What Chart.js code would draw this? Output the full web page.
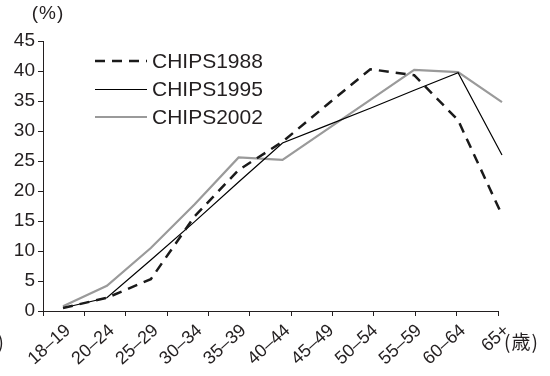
<!DOCTYPE html>
<html>
<head>
<meta charset="utf-8">
<script src="https://cdn.jsdelivr.net/npm/chart.js@4/dist/chart.umd.min.js"></script>
<style>
  html, body { margin: 0; padding: 0; background: #fff; }
  canvas { display: block; }
</style>
</head>
<body>
<canvas id="chart" width="550" height="376"></canvas>
<script>
// age groups on the x axis
const ageGroups = ['18–19', '20–24', '25–29', '30–34', '35–39', '40–44', '45–49', '50–54', '55–59', '60–64', '65+'];
// share (%) per survey
const chips1988 = [0.5, 2.2, 5.3, 15.8, 23.5, 28.2, 34.3, 40.3, 39.3, 31.8, 16.0];
const chips1995 = [0.5, 2.2, 8.5, 14.9, 21.5, 28.0, 30.9, 33.8, 36.8, 39.7, 26.0];
const chips2002 = [0.8, 4.2, 10.5, 17.8, 25.6, 25.2, 30.2, 35.2, 40.2, 39.8, 34.8];
const seriesNames = ['CHIPS1988', 'CHIPS1995', 'CHIPS2002'];

const toPoints = arr => arr.map((v, i) => ({ x: i, y: v }));
const fontFamily = '"Liberation Sans", Arial, sans-serif';
const cjkFont = '"Noto Sans CJK JP", "Noto Sans CJK SC", sans-serif';
const ink = '#231f20';

// legend drawn inside the plot, plus the unit captions
const extras = {
  id: 'extras',
  afterDraw(chart) {
    const ctx = chart.ctx;
    ctx.save();
    const rows = [61, 89, 117];
    chart.data.datasets.forEach((ds, i) => {
      const y = rows[i] + (ds.borderWidth < 2 ? 0.5 : 0);
      ctx.beginPath();
      ctx.strokeStyle = ds.borderColor;
      ctx.lineWidth = ds.borderWidth < 2 ? 1 : ds.borderWidth;
      ctx.setLineDash(ds.borderDash || []);
      ctx.moveTo(95, y);
      ctx.lineTo(147, y);
      ctx.stroke();
      ctx.setLineDash([]);
      ctx.fillStyle = ink;
      ctx.font = '21px ' + fontFamily;
      ctx.textBaseline = 'middle';
      ctx.textAlign = 'left';
      ctx.fillText(ds.label, 152, rows[i] + 1);
    });
    ctx.fillStyle = ink;
    ctx.textBaseline = 'middle';
    ctx.font = '19px ' + fontFamily;
    ctx.letterSpacing = '1px';
    ctx.textAlign = 'center';
    ctx.fillText('(%)', 48, 14);
    ctx.textAlign = 'left';
    ctx.font = '19px ' + cjkFont;
    ctx.letterSpacing = '1px';
    ctx.fillText('(歳)', 504, 342);
    ctx.textAlign = 'right';
    ctx.fillText(')', 5, 342);
    ctx.restore();
  }
};

new Chart(document.getElementById('chart'), {
  type: 'line',
  data: {
    labels: ageGroups,
    datasets: [
      {
        label: seriesNames[0],
        data: toPoints(chips1988),
        xAxisID: 'xData',
        borderColor: '#1a1a1a',
        borderWidth: 2.5,
        borderDash: [10, 7],
        pointRadius: 0,
        fill: false,
        clip: false
      },
      {
        label: seriesNames[1],
        data: toPoints(chips1995),
        xAxisID: 'xData',
        borderColor: '#000',
        borderWidth: 1.2,
        pointRadius: 0,
        fill: false,
        clip: false
      },
      {
        label: seriesNames[2],
        data: toPoints(chips2002),
        xAxisID: 'xData',
        borderColor: '#9a9a9a',
        borderWidth: 2.2,
        pointRadius: 0,
        fill: false,
        clip: false
      }
    ]
  },
  options: {
    responsive: false,
    animation: false,
    events: [],
    layout: { padding: { top: 41, right: 52, left: 0, bottom: 0 } },
    plugins: {
      legend: { display: false },
      tooltip: { enabled: false }
    },
    scales: {
      // axis line and category tick marks
      x: {
        type: 'category',
        weight: 0,
        offset: true,
        border: { display: true, color: ink, width: 1 },
        grid: { offset: true, drawOnChartArea: false, tickLength: 5, color: ink },
        ticks: { display: false },
        afterFit: s => { s.height = 0; }
      },
      // data positions and age labels
      xData: {
        type: 'linear',
        weight: 1,
        position: 'bottom',
        min: -0.4556,
        max: 9.909,
        border: { display: false },
        grid: { display: false, drawTicks: false },
        afterBuildTicks: s => { s.ticks = ageGroups.map((_, i) => ({ value: i })); },
        ticks: {
          color: ink,
          font: { size: 18, family: fontFamily },
          minRotation: 42,
          maxRotation: 42,
          padding: 9,
          labelOffset: 5,
          autoSkip: false,
          callback: v => ageGroups[v]
        },
        afterFit: s => { s.height = 65; }
      },
      y: {
        min: 0,
        max: 45,
        border: { display: true, color: ink, width: 1 },
        grid: { drawOnChartArea: false, tickLength: 5, color: ink },
        ticks: {
          stepSize: 5,
          color: ink,
          font: { size: 19, family: fontFamily },
          padding: 3
        },
        afterFit: s => { s.width = 43; }
      }
    }
  },
  plugins: [extras]
});
</script>
</body>
</html>
